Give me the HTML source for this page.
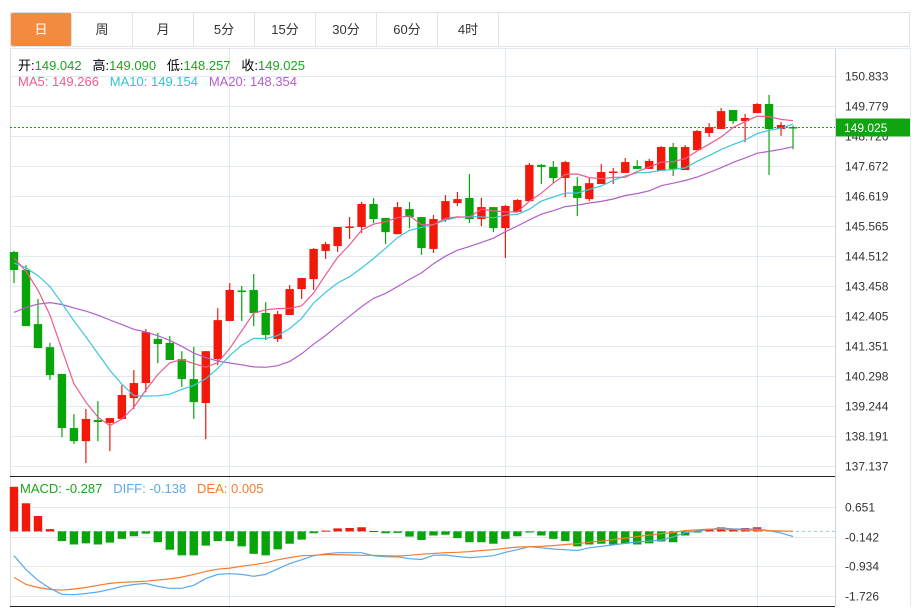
<!DOCTYPE html>
<html><head><meta charset="utf-8">
<style>
body{margin:0;background:#fff;font-family:"Liberation Sans","Noto Sans CJK SC",sans-serif;}
#wrap{position:relative;width:922px;height:610px;overflow:hidden;background:#fff;}
.tabs{position:absolute;left:10px;top:12px;width:900px;height:35px;border:1px solid #dfe3e8;box-sizing:border-box;display:flex;}
.tab{width:61px;height:100%;border-right:1px solid #dfe3e8;box-sizing:border-box;font-size:13px;color:#333;text-align:center;line-height:33px;}
.tab.active{background:#f28b3f;color:#fff;border-radius:2px;}
.info{position:absolute;left:18px;font-size:13px;white-space:nowrap;}
.g{color:#1aa51a}
svg{position:absolute;left:0;top:0}
</style></head><body>
<div id="wrap">
<div class="tabs">
<div class="tab active">日</div>
<div class="tab">周</div>
<div class="tab">月</div>
<div class="tab">5分</div>
<div class="tab">15分</div>
<div class="tab">30分</div>
<div class="tab">60分</div>
<div class="tab">4时</div>
</div>
<svg id="chart" width="922" height="610"></svg>
<div class="info" style="top:55px">开:<span class="g">149.042</span>&nbsp;&nbsp; 高:<span class="g">149.090</span>&nbsp;&nbsp; 低:<span class="g">148.257</span>&nbsp;&nbsp; 收:<span class="g">149.025</span></div>
<div class="info" style="top:74px"><span style="color:#ef5b8c">MA5: 149.266</span>&nbsp;&nbsp; <span style="color:#2fc3d8">MA10: 149.154</span>&nbsp;&nbsp; <span style="color:#b35fc9">MA20: 148.354</span></div>
<div class="info" style="top:481px;left:20px"><span style="color:#1aa51a">MACD: -0.287</span>&nbsp;&nbsp; <span style="color:#5aa8ee">DIFF: -0.138</span>&nbsp;&nbsp; <span style="color:#f47c30">DEA: 0.005</span></div>
</div>
<script>
const opens=[144.65,144.02,142.12,141.31,140.37,138.47,138.01,138.75,138.65,138.79,139.52,140.05,141.60,141.46,140.89,140.19,139.35,140.89,142.23,143.30,143.32,142.51,141.60,142.44,143.35,143.70,144.69,144.86,145.51,145.53,146.34,145.85,145.28,146.16,145.88,144.76,145.78,146.37,146.55,145.81,146.23,145.49,146.06,146.44,147.71,147.64,147.25,146.97,146.51,147.04,147.44,147.43,147.67,147.57,147.50,148.34,147.53,148.23,148.83,148.97,149.64,149.25,149.53,149.85,148.97,149.042];
const highs=[144.69,144.19,143.00,141.46,140.37,138.96,139.14,139.42,138.82,139.98,140.51,141.95,141.81,141.70,141.17,141.32,141.17,142.68,143.56,143.46,143.88,142.89,142.58,143.49,143.74,144.79,145.00,145.53,145.88,146.41,146.55,145.85,146.41,146.41,145.88,145.95,146.65,146.76,147.39,146.55,146.23,146.30,146.51,147.78,147.74,147.85,147.85,147.29,147.25,147.74,147.60,147.95,147.88,147.92,148.37,148.48,148.41,148.94,149.18,149.71,149.64,149.50,149.88,150.17,149.22,149.090];
const lows=[143.56,142.05,141.28,140.16,138.15,137.91,137.24,138.01,137.66,138.79,139.14,139.73,140.75,140.86,139.91,138.79,138.08,140.68,142.23,142.23,142.05,141.56,141.49,142.44,143.00,143.32,144.41,144.65,145.11,145.32,145.67,144.93,145.28,145.49,144.55,144.62,145.71,146.27,145.67,145.56,145.35,144.44,146.06,146.44,147.04,147.07,146.58,145.92,146.44,147.04,147.04,147.43,147.57,147.57,147.50,147.32,147.53,148.23,148.69,148.97,149.15,148.51,149.53,147.36,148.73,148.257];
const closes=[144.02,142.05,141.28,140.33,138.47,138.01,138.79,138.68,138.82,139.63,140.05,141.84,141.42,140.86,140.19,139.38,141.17,142.26,143.32,143.28,142.51,141.74,142.47,143.35,143.74,144.76,144.93,145.53,145.55,146.34,145.81,145.35,146.23,145.88,144.79,145.81,146.44,146.51,145.81,146.23,145.49,146.27,146.48,147.71,147.64,147.25,147.81,146.55,147.07,147.46,147.48,147.81,147.57,147.85,148.34,147.57,148.34,148.90,149.04,149.60,149.25,149.36,149.85,148.97,149.11,149.025];
const priorCloses=[138.6,138.9,139.3,139.8,140.4,141.0,141.6,142.2,142.8,143.4,143.7,144.0,144.2,144.3,144.2,144.4,144.6,144.7,144.5];
const diffVals=[-0.65,-1.02,-1.31,-1.52,-1.68,-1.69,-1.66,-1.62,-1.55,-1.47,-1.42,-1.39,-1.47,-1.52,-1.52,-1.44,-1.26,-1.15,-1.13,-1.15,-1.20,-1.15,-1.00,-0.86,-0.76,-0.65,-0.60,-0.57,-0.57,-0.57,-0.65,-0.68,-0.68,-0.73,-0.75,-0.64,-0.63,-0.67,-0.70,-0.68,-0.65,-0.56,-0.49,-0.41,-0.44,-0.47,-0.49,-0.51,-0.44,-0.40,-0.36,-0.32,-0.28,-0.26,-0.23,-0.15,-0.03,0.01,0.05,0.09,0.07,0.06,0.06,0.02,-0.04,-0.138];
const deaVals=[-1.23,-1.42,-1.50,-1.55,-1.57,-1.54,-1.50,-1.44,-1.39,-1.36,-1.35,-1.33,-1.30,-1.27,-1.22,-1.15,-1.07,-1.01,-0.98,-0.93,-0.89,-0.84,-0.76,-0.70,-0.65,-0.64,-0.62,-0.62,-0.63,-0.64,-0.64,-0.65,-0.66,-0.64,-0.61,-0.59,-0.57,-0.56,-0.54,-0.51,-0.49,-0.45,-0.42,-0.41,-0.40,-0.38,-0.35,-0.33,-0.29,-0.26,-0.22,-0.18,-0.14,-0.10,-0.06,-0.03,0.02,0.04,0.06,0.06,0.05,0.04,0.03,0.02,0.01,0.005];
const macdVals=[1.19,0.75,0.41,0.06,-0.26,-0.35,-0.32,-0.35,-0.30,-0.20,-0.13,-0.06,-0.29,-0.49,-0.64,-0.64,-0.38,-0.26,-0.26,-0.40,-0.60,-0.64,-0.48,-0.33,-0.22,-0.05,0.02,0.08,0.09,0.11,0.01,-0.05,-0.04,-0.14,-0.23,-0.11,-0.09,-0.18,-0.29,-0.29,-0.33,-0.20,-0.13,-0.03,-0.11,-0.20,-0.26,-0.40,-0.35,-0.33,-0.35,-0.33,-0.35,-0.32,-0.27,-0.29,-0.11,-0.03,0.06,0.11,0.06,0.09,0.11,0,0,0];
const priceTicks=["150.833","149.779","148.726","147.672","146.619","145.565","144.512","143.458","142.405","141.351","140.298","139.244","138.191","137.137"];
const macdTicks=["0.651","-0.142","-0.934","-1.726"];
const lastPrice=149.025;

const svg=document.getElementById('chart');
const NS='http://www.w3.org/2000/svg';
function mk(tag,attrs,parent){const e=document.createElementNS(NS,tag);for(const k in attrs)e.setAttribute(k,attrs[k]);(parent||svg).appendChild(e);return e;}
const pMax=150.833,pMin=137.137,yTop=76,yBot=466;
const yP=p=>yTop+(pMax-p)*(yBot-yTop)/(pMax-pMin);
const mMax=0.651,mMin=-1.726,myTop=507,myBot=596;
const yM=v=>myTop+(mMax-v)*(myBot-myTop)/(mMax-mMin);
const xC=i=>14+i*11.985;
const RED='#f2190b',GREEN='#08a50a';

const grid=mk('g',{});


priceTicks.forEach((t,i)=>{const v=parseFloat(t);const y=Math.round(yP(v))+0.5;
 const l=mk('line',{x1:10,x2:835,y1:y,y2:y,stroke:'#e3e9f0','stroke-width':1},grid);
 
 const tx=mk('text',{x:845,y:y+4,'font-size':12,fill:'#333','font-family':'Liberation Sans'},grid);
 tx.textContent=t;});
macdTicks.forEach(t=>{const v=parseFloat(t);const y=Math.round(yM(v))+0.5;
 const l=mk('line',{x1:10,x2:835,y1:y,y2:y,stroke:'#e3e9f0','stroke-width':1},grid);
 
 const tx=mk('text',{x:845,y:y+4,'font-size':12,fill:'#333','font-family':'Liberation Sans'},grid);
 tx.textContent=t;});
[229.5,505.5,757.5].forEach(x=>{const l=mk('line',{x1:x,x2:x,y1:48,y2:606,stroke:'#e3e9f0'},grid);
 });
[[10.5,48,10.5,606,'#d8dde3'],[835.5,48,835.5,606,'#cfd5dc'],[10,476.5,835,476.5,'#222'],[10,606.5,835,606.5,'#222'],[10,48.5,910,48.5,'#e3e9f0'],[910.5,48,910.5,606,'#e3e9f0']].forEach(a=>{
 const l=mk('line',{x1:a[0],y1:a[1],x2:a[2],y2:a[3],stroke:a[4]});
 });

const all=priorCloses.concat(closes);
function ma(n){const out=[];for(let i=0;i<closes.length;i++){let s=0;const j=i+priorCloses.length;for(let k=0;k<n;k++)s+=all[j-k];out.push(s/n);}return out;}
function line(vals,yf,color,name){const d=vals.map((v,i)=>(i?'L':'M')+xC(i).toFixed(1)+','+yf(v).toFixed(1)).join('');
 const p=mk('path',{d:d,fill:'none',stroke:color,'stroke-width':1.2});
 }

const cg=mk('g',{});


closes.forEach((c,i)=>{const o=opens[i];const col=c>=o?RED:GREEN;const x=xC(i);
 const w=mk('line',{x1:x,x2:x,y1:yP(highs[i]),y2:yP(lows[i]),stroke:col,'stroke-width':1.2},cg);
 
 const t=Math.min(yP(o),yP(c)),h=Math.max(1.5,Math.abs(yP(o)-yP(c)));
 const r=mk('rect',{x:x-4.2,y:t,width:8.4,height:h,fill:col},cg);
 });
line(ma(20),yP,'#b35fc9','ma20-line');
line(ma(10),yP,'#3cc6dc','ma10-line');
line(ma(5),yP,'#ef5b8c','ma5-line');

const ly=yP(lastPrice);
const lp=mk('line',{x1:10,x2:835,y1:ly,y2:ly,stroke:'#11a011','stroke-dasharray':'2,2'});

const lr=mk('rect',{x:836,y:ly-9,width:74,height:18,fill:'#10a510'});

const lt=mk('text',{x:844,y:ly+4.5,'font-size':12,fill:'#fff','font-family':'Liberation Sans'});

lt.textContent=lastPrice.toFixed(3);

const z=yM(0);
const zl=mk('line',{x1:10,x2:835,y1:z,y2:z,stroke:'#8fd0ea','stroke-dasharray':'3,3'});

macdVals.forEach((v,i)=>{if(v===0)return;const y=yM(v);
 const r=mk('rect',{x:xC(i)-4.2,y:Math.min(y,z),width:8.4,height:Math.max(1,Math.abs(y-z)),fill:v>0?RED:GREEN});
 });
line(diffVals,yM,'#5aa8ee','diff-line');
line(deaVals,yM,'#f47c30','dea-line');
</script>
</body></html>
